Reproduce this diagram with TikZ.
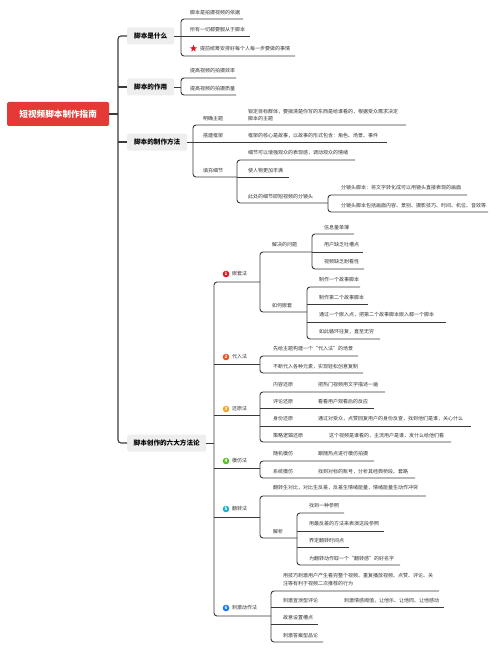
\documentclass[tikz,border=0pt]{standalone}
\usepackage{fontspec}
\newfontfamily\cjk{Noto Sans CJK SC}
\usetikzlibrary{shapes.geometric}
\definecolor{lc}{HTML}{3A3A3A}
\definecolor{txt}{HTML}{333333}
\definecolor{boxgray}{HTML}{EEEEEE}
\definecolor{rootred}{HTML}{E53935}
\definecolor{nA}{HTML}{E8141E}
\definecolor{nB}{HTML}{F0501E}
\definecolor{nC}{HTML}{F5A41E}
\definecolor{nD}{HTML}{52C41A}
\definecolor{nE}{HTML}{13B5CF}
\definecolor{nF}{HTML}{1677FF}
\tikzset{
  ln/.style={draw=lc, line width=0.9pt, rounded corners=3pt},
  trunk/.style={draw=lc, line width=1.1pt, rounded corners=3pt},
  t/.style={anchor=west, inner sep=0pt, text=txt, font=\cjk\fontsize{5}{7.5}\selectfont},
  tt/.style={anchor=west, inner sep=0pt, text=txt, align=left, font=\cjk\fontsize{5}{7.5}\selectfont},
  bbox/.style={anchor=west, fill=boxgray, rounded corners=1.5pt, inner sep=0pt, minimum height=17pt, text=black, font=\cjk\bfseries\fontsize{6.6}{7}\selectfont},
  rootbox/.style={anchor=west, fill=rootred, rounded corners=1.5pt, inner sep=0pt, minimum width=102pt, minimum height=24pt, text=white, font=\cjk\bfseries\fontsize{8.6}{9}\selectfont},
  num/.style={circle, fill=#1, inner sep=0pt, minimum size=6.6pt, text=white, font=\cjk\bfseries\fontsize{4.6}{5}\selectfont}
}
\begin{document}
\begin{tikzpicture}[x=1pt,y=-1pt]
\useasboundingbox (0,0) rectangle (500,650);
% root and main branches
\node[rootbox] (root) at (7,114) {短视频脚本制作指南};
\node[bbox, minimum width=47pt] (b1) at (127,36) {脚本是什么};
\node[bbox, minimum width=47pt] (b2) at (127,87) {脚本的作用};
\node[bbox, minimum width=60pt] (b3) at (127,142) {脚本的制作方法};
\node[bbox, minimum width=79pt] (b4) at (127,443) {脚本创作的六大方法论};
\draw[trunk] (b1.west) -- (118,36) -- (118,443) -- (b4.west);
\draw[trunk] (root.east) -- (118,114);
\draw[trunk] (b2.west) -- (118,87);
\draw[trunk] (b3.west) -- (118,142);

% branch 1
\draw[ln] (243,19) -- (181,19) -- (181,56) -- (295,56);
\draw[ln] (181,36) -- (250,36);
\draw[ln] (b1.east) -- (181,36);
\node[t] (a1) at (190,13) {脚本是拍摄视频的依据};
\node[t] (a2) at (190,30) {所有一切都要服从于脚本};
\node[star, star points=5, star point ratio=2.4, fill=nA, minimum size=7.5pt, inner sep=0pt] (star) at (193.5,48.5) {};
\node[t] (a3) at (200,48.5) {提前统筹安排好每个人每一步要做的事情};

% branch 2
\draw[ln] (236,78) -- (181,78) -- (181,95) -- (236,95);
\draw[ln] (b2.east) -- (181,87);
\node[t] (c1) at (190,71) {提高视频的拍摄效率};
\node[t] (c2) at (190,89) {提高视频的拍摄质量};

% branch 3
\draw[ln] (b3.east) -- (193,142);
\draw[ln] (406,125) -- (193,125) -- (193,177) -- (237,177);
\draw[ln] (193,142) -- (387,142);
\node[t] (m1) at (203,119) {明确主题};
\node[tt] (m1a) at (248,115) {锁定目标群体，要搞清楚你写的东西是给谁看的，根据受众需求决定\\脚本的主题};
\node[t] (m2) at (203,136) {搭建框架};
\node[t] (m2a) at (248,136) {框架的核心是故事，以故事的形式包含：角色、场景、事件};
\node[t] (m3) at (203,171) {填充细节};
\draw[ln] (355,160) -- (237,160) -- (237,203) -- (328,203);
\draw[ln] (237,177) -- (289,177);
\node[t] (m3a) at (248,153) {细节可以增强观众的表现感，调动观众的情绪};
\node[t] (m3b) at (248,171) {使人物更加丰满};
\node[t] (m3c) at (248,197) {此处的细节即短视频的分镜头};
\draw[ln] (467,195) -- (328,195) -- (328,212) -- (488,212);
\node[t] (m3c1) at (341,188) {分镜头脚本：将文字转化成可以用镜头直接表现的画面};
\node[t] (m3c2) at (341,206) {分镜头脚本包括画面内容、景别、摄影技巧、时间、机位、音效等};

% branch 4 trunk
\draw[ln] (b4.east) -- (214,443);
\draw[ln] (260,282) -- (214,282) -- (214,616) -- (271,616);
\draw[ln] (214,364) -- (260,364);
\draw[ln] (214,415) -- (260,415);
\draw[ln] (214,468) -- (260,468);
\draw[ln] (214,517) -- (260,517);

% 1 嵌套法
\node[num=nA] (n1) at (226,274) {1};
\node[t] (k1) at (232,274) {嵌套法};
\draw[ln] (312,252) -- (260,252) -- (260,312) -- (307,312);
\node[t] (k1a) at (272,245) {解决的问题};
\node[t] (k1b) at (272,306) {如何嵌套};
\draw[ln] (354,234) -- (312,234) -- (312,269) -- (364,269);
\draw[ln] (312,252) -- (363,252);
\node[t] at (324,228) {信息量单薄};
\node[t] at (324,245) {用户缺乏吐槽点};
\node[t] at (324,262) {视频缺乏耐看性};
\draw[ln] (360,287) -- (307,287) -- (307,339) -- (380,339);
\draw[ln] (307,304) -- (368,304);
\draw[ln] (307,322) -- (446,322);
\node[t] at (319,280) {制作一个故事脚本};
\node[t] at (319,298) {制作第二个故事脚本};
\node[t] at (319,315) {通过一个嵌入点，把第二个故事脚本嵌入都一个脚本};
\node[t] at (319,332) {如此循环往复，直至无穷};

% 2 代入法
\node[num=nB] (n2) at (226,357) {2};
\node[t] (k2) at (232,357) {代入法};
\draw[ln] (358,356) -- (260,356) -- (260,373) -- (363,373);
\node[t] at (273,349) {先给主题构建一个“代入法”的场景};
\node[t] at (273,367) {不断代入各种元素，实现轻松创意复制};

% 3 还原法
\node[num=nC] (n3) at (226,409) {3};
\node[t] (k3) at (232,409) {还原法};
\draw[ln] (385,392) -- (260,392) -- (260,442) -- (451,442);
\draw[ln] (260,408) -- (374,408);
\draw[ln] (260,426) -- (471,426);
\node[t] at (273,385) {内容还原};
\node[t] at (318,385) {把热门视频用文字描述一遍};
\node[t] at (273,402) {评论还原};
\node[t] at (318,402) {看看用户观看后的反应};
\node[t] at (273,419) {身份还原};
\node[t] at (318,419) {通过对受众，点赞回复用户的身份反查，找到他们是谁，关心什么};
\node[t] at (273,436) {策略逻辑还原};
\node[t] at (329,436) {这个视频是谁看的，主流用户是谁，发什么给他们看};

% 4 模仿法
\node[num=nD] (n4) at (226,461) {4};
\node[t] (k4) at (232,461) {模仿法};
\draw[ln] (374,461) -- (260,461) -- (260,478) -- (415,478);
\node[t] at (273,454) {随机模仿};
\node[t] at (318,454) {跟随热点进行模仿拍摄};
\node[t] at (273,472) {系统模仿};
\node[t] at (318,472) {找到对标的账号，分析其经典桥段、套路};

% 5 翻转法
\node[num=nE] (n5) at (226,509) {5};
\node[t] (k5) at (232,509) {翻转法};
\draw[ln] (426,496) -- (260,496) -- (260,538) -- (297,538);
\node[t] at (273,488) {翻转生对比，对比生反差，反差生情绪能量，情绪能量生动作冲突};
\node[t] at (273,532) {解析};
\draw[ln] (344,513) -- (297,513) -- (297,565) -- (400,565);
\draw[ln] (297,531) -- (384,531);
\draw[ln] (297,547) -- (349,547);
\node[t] at (309,506) {找到一种参照};
\node[t] at (309,524) {用最反差的方法来表演这段参照};
\node[t] at (309,541) {界定翻转时间点};
\node[t] at (309,559) {为翻转动作取一个“翻转感”的好名字};

% 6 刺激动作法
\node[num=nF] (n6) at (226,608) {6};
\node[t] (k6) at (232,608) {刺激动作法};
\draw[ln] (439,591) -- (271,591) -- (271,642) -- (323,642);
\draw[ln] (271,607) -- (444,607);
\draw[ln] (271,624) -- (318,624);
\node[tt] at (283,579.5) {用技巧刺激用户产生看完整个视频、重复播放视频、点赞、评论、关\\注等有利于视频二次推荐的行为};
\node[t] at (283,601) {刺激宣泄型评论};
\node[t] at (344,601) {刺激情感阈值，让他乐、让他同、让他感动};
\node[t] at (283,618) {故意设置槽点};
\node[t] at (283,636) {刺激答案型品论};
\end{tikzpicture}
\end{document}
